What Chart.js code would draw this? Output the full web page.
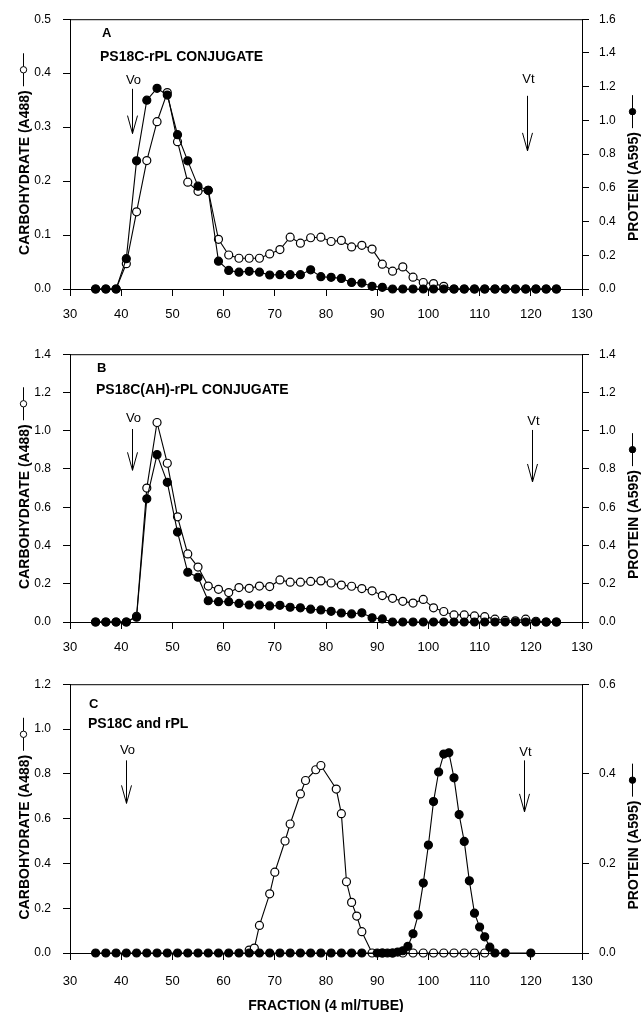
<!DOCTYPE html>
<html>
<head>
<meta charset="utf-8">
<script src="https://cdn.jsdelivr.net/npm/chart.js@4.4.1/dist/chart.umd.min.js"></script>
<style>
  body { margin: 0; background: #fff; }
  .panel { position: absolute; left: 0; }
</style>
</head>
<body>
<div class="panel" style="top:0px"><canvas id="chartA" width="642" height="335"></canvas></div>
<div class="panel" style="top:335px"><canvas id="chartB" width="642" height="330"></canvas></div>
<div class="panel" style="top:665px"><canvas id="chartC" width="642" height="347"></canvas></div>
<script>
const FONT = "Arial, 'Liberation Sans', Helvetica, sans-serif";

// fraction numbers (4 ml/tube) used in panels A and B
const fractionsAB = [35, 37, 39, 41, 43, 45, 47, 49, 51, 53, 55, 57, 59, 61, 63, 65, 67, 69, 71, 73, 75, 77, 79,
  81, 83, 85, 87, 89, 91, 93, 95, 97, 99, 101, 103, 105, 107, 109, 111, 113, 115, 117, 119, 121, 123, 125];

// A: PS18C-rPL conjugate
const carbA = [0, 0, 0, 0.047, 0.143, 0.238, 0.31, 0.364, 0.273, 0.198, 0.181, 0.183, 0.092, 0.063, 0.057, 0.057,
  0.057, 0.065, 0.073, 0.096, 0.085, 0.095, 0.096, 0.088, 0.09, 0.078, 0.081, 0.074, 0.046, 0.033, 0.041, 0.022,
  0.012, 0.01, 0.005, 0, 0, 0, 0, 0, 0, 0, 0, 0, 0, 0];
const protA = [0, 0, 0, 0.18, 0.76, 1.12, 1.19, 1.15, 0.915, 0.76, 0.61, 0.585, 0.165, 0.11, 0.1, 0.105, 0.1,
  0.083, 0.085, 0.085, 0.085, 0.114, 0.073, 0.069, 0.063, 0.039, 0.035, 0.016, 0.01, 0, 0, 0, 0, 0, 0, 0, 0,
  0, 0, 0, 0, 0, 0, 0, 0, 0];

// B: PS18C(AH)-rPL conjugate
const carbB = [0, 0, 0, 0, 0.03, 0.7, 1.043, 0.83, 0.55, 0.356, 0.287, 0.188, 0.171, 0.154, 0.18, 0.176, 0.188,
  0.185, 0.22, 0.208, 0.208, 0.212, 0.215, 0.204, 0.193, 0.187, 0.175, 0.163, 0.138, 0.124, 0.108, 0.099, 0.118,
  0.074, 0.055, 0.037, 0.037, 0.032, 0.028, 0.015, 0.008, 0.006, 0.015, 0.004, 0, 0];
const protB = [0, 0, 0, 0, 0.025, 0.644, 0.875, 0.73, 0.47, 0.26, 0.234, 0.111, 0.106, 0.106, 0.097, 0.089, 0.089,
  0.084, 0.087, 0.077, 0.074, 0.067, 0.063, 0.056, 0.047, 0.042, 0.048, 0.022, 0.016, 0, 0, 0, 0, 0, 0, 0, 0,
  0, 0, 0, 0, 0, 0, 0, 0, 0];

// C: PS18C and rPL run separately
const fractionsCarbC = [65, 66, 67, 69, 70, 72, 73, 75, 76, 78, 79, 82, 83, 84, 85, 86, 87, 89, 91, 93, 95, 97,
  99, 101, 103, 105, 107, 109, 111];
const carbC = [0.013, 0.022, 0.123, 0.264, 0.361, 0.5, 0.576, 0.71, 0.77, 0.818, 0.837, 0.732, 0.622, 0.318,
  0.226, 0.165, 0.095, 0, 0, 0, 0, 0, 0, 0, 0, 0, 0, 0, 0];
const fractionsProtC = [35, 37, 39, 41, 43, 45, 47, 49, 51, 53, 55, 57, 59, 61, 63, 65, 67, 69, 71, 73, 75, 77,
  79, 81, 83, 85, 87, 90, 91, 92, 93, 94, 95, 96, 97, 98, 99, 100, 101, 102, 103, 104, 105, 106, 107, 108, 109,
  110, 111, 112, 113, 115, 120];
const protC = [0, 0, 0, 0, 0, 0, 0, 0, 0, 0, 0, 0, 0, 0, 0, 0, 0, 0, 0, 0, 0, 0, 0, 0, 0, 0, 0, 0, 0, 0, 0, 0.002,
  0.005, 0.015, 0.043, 0.085, 0.156, 0.241, 0.338, 0.404, 0.444, 0.447, 0.391, 0.309, 0.249, 0.161, 0.089, 0.058,
  0.036, 0.013, 0, 0, 0];

const xTicks = [30, 40, 50, 60, 70, 80, 90, 100, 110, 120, 130];

// draws the frame, panel letter, Vo / Vt arrows and the two rotated axis titles
const decor = {
  id: 'decor',
  afterDraw(chart, args, o) {
    const { ctx, chartArea: a, scales } = chart;
    ctx.save();
    ctx.strokeStyle = '#000';
    ctx.fillStyle = '#000';
    ctx.lineWidth = 1;
    ctx.strokeRect(a.left + 0.5, a.top + 0.5, a.right - a.left, a.bottom - a.top);

    ctx.textBaseline = 'middle';
    ctx.textAlign = 'left';
    ctx.font = 'bold 13px ' + FONT;
    ctx.fillText(o.letter, a.left + o.letterAt[0], a.top + o.letterAt[1]);
    ctx.font = 'bold 14px ' + FONT;
    ctx.fillText(o.label, a.left + o.labelAt[0], a.top + o.labelAt[1]);

    ctx.font = '13px ' + FONT;
    ctx.textAlign = 'center';
    o.arrows.forEach(ar => {
      const px = Math.round(scales.x.getPixelForValue(ar.x)) + 0.5;
      const yt = scales.y.getPixelForValue(ar.text);
      const y1 = scales.y.getPixelForValue(ar.from);
      const y2 = scales.y.getPixelForValue(ar.to);
      ctx.fillText(ar.name, px + 1, yt);
      ctx.beginPath();
      ctx.moveTo(px, y1);
      ctx.lineTo(px, y2);
      ctx.moveTo(px - 5, y2 - 18);
      ctx.lineTo(px, y2);
      ctx.lineTo(px + 5, y2 - 18);
      ctx.stroke();
    });

    const mid = (a.top + a.bottom) / 2;
    vTitle(ctx, 25, mid, 'CARBOHYDRATE (A488)', false, 0);
    vTitle(ctx, 634, mid + o.rightShift, 'PROTEIN (A595)', true, 0);
    ctx.restore();
  }
};

function vTitle(ctx, cx, cy, text, filled, shift) {
  ctx.font = 'bold 14px ' + FONT;
  const w = ctx.measureText(text).width;
  const len = 33, gap = 4;
  const bottom = cy + (w + gap + len) / 2 + shift;
  ctx.save();
  ctx.translate(cx, bottom);
  ctx.rotate(-Math.PI / 2);
  ctx.textAlign = 'left';
  ctx.textBaseline = 'middle';
  ctx.fillText(text, 0, 0);
  ctx.restore();
  const top = bottom - w - gap;
  const lx = cx - 1.5;
  ctx.beginPath();
  ctx.moveTo(lx, top);
  ctx.lineTo(lx, top - len);
  ctx.stroke();
  ctx.beginPath();
  ctx.arc(lx, top - len / 2, 3.2, 0, Math.PI * 2);
  ctx.fillStyle = filled ? '#000' : '#fff';
  ctx.fill();
  ctx.stroke();
  ctx.fillStyle = '#000';
}

function series(xs, ys, filled, axis) {
  return {
    data: xs.map((f, i) => ({ x: f, y: ys[i] })),
    yAxisID: axis,
    borderColor: '#000',
    borderWidth: 1.1,
    pointRadius: 4.0,
    pointBorderWidth: 1.2,
    pointBackgroundColor: filled ? '#000' : '#fff',
    pointBorderColor: '#000',
    tension: 0,
    fill: false,
    clip: false
  };
}

function yAxis(pos, max, step, width) {
  return {
    type: 'linear',
    position: pos,
    min: 0,
    max: max,
    ticks: {
      stepSize: step,
      autoSkip: false,
      color: '#000',
      padding: pos === 'left' ? 12 : 10,
      font: { family: FONT, size: 12 },
      callback: v => v.toFixed(1)
    },
    grid: { drawOnChartArea: false, tickLength: 7, color: '#000' },
    border: { color: '#000', width: 1 },
    afterFit: s => { s.width = width; }
  };
}

function makePanel(id, cfg) {
  new Chart(document.getElementById(id), {
    type: 'line',
    data: {
      datasets: [
        series(cfg.protX, cfg.prot, true, 'y1'),
        series(cfg.carbX, cfg.carb, false, 'y')
      ]
    },
    options: {
      responsive: false,
      animation: false,
      layout: { padding: { top: cfg.top, left: 0, right: 0, bottom: 0 } },
      plugins: {
        legend: { display: false },
        tooltip: { enabled: false },
        decor: cfg.decor
      },
      scales: {
        x: {
          type: 'linear',
          min: 30,
          max: 130,
          afterBuildTicks: s => { s.ticks = xTicks.map(v => ({ value: v })); },
          ticks: { color: '#000', padding: cfg.xPad, autoSkip: false, font: { family: FONT, size: 13 } },
          grid: { drawOnChartArea: false, tickLength: 7, color: '#000' },
          border: { color: '#000', width: 1 },
          title: {
            display: !!cfg.xTitle,
            text: cfg.xTitle || '',
            color: '#000',
            font: { family: FONT, size: 14, weight: 'bold' },
            padding: { top: 0, bottom: -3 }
          },
          afterFit: s => { s.height = cfg.xHeight; }
        },
        y: yAxis('left', cfg.carbMax, cfg.carbStep, 70),
        y1: yAxis('right', cfg.protMax, 0.2, 60)
      }
    },
    plugins: [decor]
  });
}

makePanel('chartA', {
  carbX: fractionsAB, carb: carbA, protX: fractionsAB, prot: protA,
  carbMax: 0.5, carbStep: 0.1, protMax: 1.6,
  top: 19, xHeight: 46, xPad: 11,
  decor: {
    letter: 'A', letterAt: [32, 14], label: 'PS18C-rPL CONJUGATE', labelAt: [30, 38], rightShift: 14,
    arrows: [
      { name: 'Vo', x: 42.2, text: 0.386, from: 0.371, to: 0.288 },
      { name: 'Vt', x: 119.2, text: 0.389, from: 0.358, to: 0.256 }
    ]
  }
});

makePanel('chartB', {
  carbX: fractionsAB, carb: carbB, protX: fractionsAB, prot: protB,
  carbMax: 1.4, carbStep: 0.2, protMax: 1.4,
  top: 14, xHeight: 43, xPad: 11,
  decor: {
    letter: 'B', letterAt: [27, 14], label: 'PS18C(AH)-rPL CONJUGATE', labelAt: [26, 36], rightShift: 18,
    arrows: [
      { name: 'Vo', x: 42.2, text: 1.065, from: 1.009, to: 0.793 },
      { name: 'Vt', x: 120.2, text: 1.05, from: 1.004, to: 0.732 }
    ]
  }
});

makePanel('chartC', {
  carbX: fractionsCarbC, carb: carbC, protX: fractionsProtC, prot: protC,
  carbMax: 1.2, carbStep: 0.2, protMax: 0.6,
  top: 12, xHeight: 59, xPad: 14, xTitle: 'FRACTION (4 ml/TUBE)',
  decor: {
    letter: 'C', letterAt: [19, 20], label: 'PS18C and rPL', labelAt: [18, 40], rightShift: 18,
    arrows: [
      { name: 'Vo', x: 41.0, text: 0.904, from: 0.86, to: 0.668 },
      { name: 'Vt', x: 118.6, text: 0.895, from: 0.86, to: 0.63 }
    ]
  }
});
</script>
</body>
</html>
